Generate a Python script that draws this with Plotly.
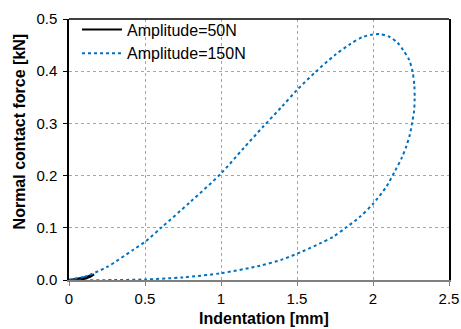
import plotly.graph_objects as go

# Amplitude = 150 N loop (indentation mm, force kN): loading then unloading
x150 = [0, 0.1, 0.25, 0.423, 0.5, 0.61, 0.8, 1.0, 1.147, 1.278, 1.4, 1.5, 1.62, 1.75,
        1.85, 1.932, 1.991, 2.046, 2.107, 2.16, 2.20, 2.239, 2.261, 2.272, 2.274, 2.27,
        2.259, 2.243, 2.22, 2.189, 2.145, 2.086, 2.0, 1.914, 1.82, 1.739, 1.651, 1.537,
        1.4, 1.25, 1.0, 0.75, 0.5, 0.3, 0]
y150 = [0, 0.006, 0.025, 0.058, 0.073, 0.101, 0.150, 0.204, 0.252, 0.294, 0.332, 0.364, 0.398, 0.431,
        0.452, 0.4655, 0.470, 0.471, 0.466, 0.455, 0.44, 0.421, 0.398, 0.373, 0.348, 0.323,
        0.304, 0.279, 0.257, 0.234, 0.209, 0.178, 0.146, 0.121, 0.100, 0.083, 0.070, 0.055,
        0.039, 0.027, 0.013, 0.005, 0.001, 0.0, 0]

# Amplitude = 50 N loop
x50 = [0, 0.05, 0.1, 0.15, 0.165, 0.14, 0.1, 0.06, 0]
y50 = [0, 0.002, 0.005, 0.009, 0.0105, 0.006, 0.002, 0.0, 0]

xticks = [0, 0.5, 1, 1.5, 2, 2.5]
xticklabels = ["0", "0.5", "1", "1.5", "2", "2.5"]
yticks = [0, 0.1, 0.2, 0.3, 0.4, 0.5]
yticklabels = ["0.0", "0.1", "0.2", "0.3", "0.4", "0.5"]

font = "Liberation Sans, Arial, sans-serif"

fig = go.Figure()
fig.add_trace(go.Scatter(x=x50, y=y50, mode="lines", name="Amplitude=50N",
                         line=dict(color="black", width=2)))
fig.add_trace(go.Scatter(x=x150, y=y150, mode="lines", name="Amplitude=150N",
                         line=dict(color="#0070C0", width=2, dash="dot", shape="spline", smoothing=0.8)))

fig.update_layout(
    width=461, height=329,
    margin=dict(l=69, r=12, t=16, b=49),
    paper_bgcolor="white", plot_bgcolor="white",
    font=dict(family=font, size=15, color="black"),
    showlegend=True,
    legend=dict(x=0.021, y=1.025, xanchor="left", yanchor="top",
                bgcolor="rgba(0,0,0,0)", borderwidth=0, font=dict(size=16),
                tracegroupgap=0, itemwidth=40),
    xaxis=dict(range=[0, 2.5], tickvals=xticks, ticktext=xticklabels, automargin=False,
               showgrid=True, gridcolor="#a6a6a6", griddash="dot", gridwidth=1,
               showline=True, linecolor="#808080", linewidth=1.5,
               ticks="outside", ticklen=4, tickcolor="#808080",
               zeroline=False),
    yaxis=dict(range=[0, 0.5], tickvals=yticks, ticktext=yticklabels, automargin=False,
               showgrid=True, gridcolor="#a6a6a6", griddash="dot", gridwidth=1,
               showline=True, linecolor="black", linewidth=1.5, mirror=True,
               ticks="outside", ticklen=4, tickcolor="black", ticklabelstandoff=3,
               zeroline=False),
)
# white legend background hiding gridlines
fig.add_shape(type="rect", xref="paper", yref="paper", layer="between",
              x0=0.003, x1=(255 - 69) / 380, y0=(280 - 61) / 263.5, y1=(280 - 19) / 263.5,
              line=dict(width=0), fillcolor="white")
fig.add_shape(type="line", xref="paper", yref="paper", x0=0, x1=1, y0=1, y1=1,
              line=dict(color="black", width=1.5))
fig.add_annotation(text="<b>Indentation [mm]</b>", xref="paper", yref="paper",
                   x=(264 - 69) / 380, y=(280 - 319) / 263.5, xanchor="center", yanchor="middle",
                   showarrow=False, font=dict(size=16))
fig.add_annotation(text="<b>Normal contact force [kN]</b>", xref="paper", yref="paper",
                   x=(19 - 69) / 380, y=(280 - 130) / 263.5, xanchor="center", yanchor="middle",
                   textangle=-90, showarrow=False, font=dict(size=16))

fig.write_html("out.html")
